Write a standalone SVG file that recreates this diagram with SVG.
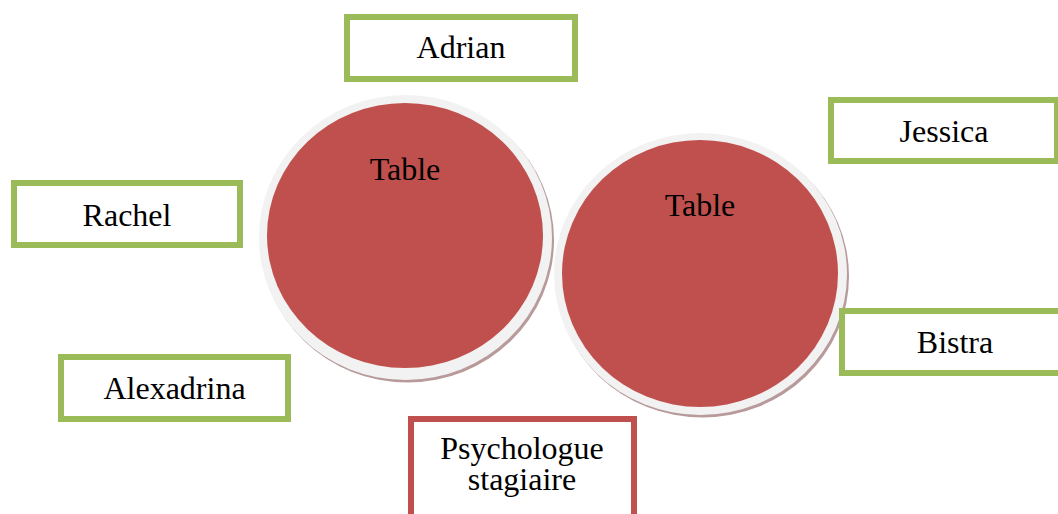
<svg xmlns="http://www.w3.org/2000/svg" width="1058" height="514" viewBox="0 0 1058 514">
<style>
.box{fill:#ffffff;stroke:#9BBB59;stroke-width:6}
.rbox{fill:#ffffff;stroke:#C0504D;stroke-width:6}
.shadow{fill:#b89a9a}
.rim{fill:#f2f2f2}
.table{fill:#C0504D}
text{font-family:"Liberation Serif","Times New Roman",serif;font-size:32px;fill:#000000;text-anchor:middle}
</style>
<rect width="1058" height="514" fill="#ffffff"/>
<g id="table1">
<ellipse class="shadow" cx="407.5" cy="240" rx="146.5" ry="142.5"/>
<ellipse class="rim" cx="405.5" cy="237.5" rx="146.5" ry="142.5"/>
<ellipse class="table" cx="405" cy="235.5" rx="138" ry="132.5"/>
<text x="405" y="180">Table</text>
</g>
<g id="table2">
<ellipse class="shadow" cx="702.5" cy="276.5" rx="146.5" ry="141"/>
<ellipse class="rim" cx="700.5" cy="274" rx="146.5" ry="141"/>
<ellipse class="table" cx="700" cy="273.5" rx="138" ry="133.5"/>
<text x="700" y="216">Table</text>
</g>
<g id="adrian">
<rect class="box" x="347" y="17" width="228" height="62"/>
<text x="461" y="58">Adrian</text>
</g>
<g id="rachel">
<rect class="box" x="14" y="183" width="226" height="62"/>
<text x="127" y="226">Rachel</text>
</g>
<g id="jessica">
<rect class="box" x="831" y="100" width="226" height="61"/>
<text x="944" y="142">Jessica</text>
</g>
<g id="bistra">
<rect class="box" x="842" y="311" width="226" height="62"/>
<text x="955" y="353">Bistra</text>
</g>
<g id="alexadrina">
<rect class="box" x="61" y="357" width="227" height="62"/>
<text x="174.5" y="399">Alexadrina</text>
</g>
<g id="psychologue">
<rect class="rbox" x="411" y="419" width="223" height="110"/>
<text x="522" y="459">Psychologue</text>
<text x="522" y="490">stagiaire</text>
</g>
<g id="connectors"/>
</svg>
